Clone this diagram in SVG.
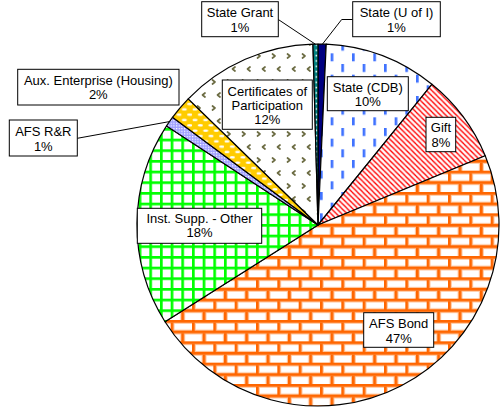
<svg xmlns="http://www.w3.org/2000/svg" width="500" height="410" viewBox="0 0 500 410">
<style>
.lbl{font-family:"Liberation Sans",Arial,sans-serif;font-size:13px;fill:#000;text-anchor:middle}
.box{fill:#fff;stroke:#000;stroke-width:1}
.slice{stroke:#000;stroke-width:1.2;stroke-linejoin:round}
.lead{fill:none;stroke:#000;stroke-width:1}
</style>
<defs>
<pattern id="brick" width="21.333" height="21.333" patternUnits="userSpaceOnUse">
<rect width="21.333" height="21.333" fill="#fff"/>
<g fill="none" stroke="#FFC49A" stroke-width="2.2">
<rect x="0" y="0" width="21.333" height="2.667"/>
<rect x="0" y="10.667" width="21.333" height="2.667"/>
<rect x="0" y="2.667" width="2.667" height="8"/>
<rect x="10.667" y="13.333" width="2.667" height="8"/>
</g>
<g fill="#FF6600">
<rect x="0" y="0" width="21.333" height="2.667"/>
<rect x="0" y="10.667" width="21.333" height="2.667"/>
<rect x="0" y="21.333" width="21.333" height="2.667"/>
<rect x="0" y="2.667" width="2.667" height="8"/>
<rect x="10.667" y="13.333" width="2.667" height="8"/>
</g>
</pattern>
<pattern id="grid" width="10.667" height="10.667" patternUnits="userSpaceOnUse">
<rect width="10.667" height="10.667" fill="#fff"/>
<rect width="10.667" height="2.667" fill="#00FF00"/>
<rect width="2.667" height="10.667" fill="#00FF00"/>
</pattern>
<pattern id="diag" width="5.333" height="5.333" patternUnits="userSpaceOnUse">
<rect width="5.333" height="5.333" fill="#fff"/>
<path d="M-1,-1 L6.333,6.333 M-3.667,1.667 L1.667,7 M1.667,-3.667 L7,1.667" stroke="#FFC8C8" stroke-width="2.2"/>
<path d="M-1,-1 L6.333,6.333 M-3.667,1.667 L1.667,7 M1.667,-3.667 L7,1.667" stroke="#FF0000" stroke-width="1.1"/>
</pattern>
<pattern id="dash" width="21.333" height="21.333" patternUnits="userSpaceOnUse">
<rect width="21.333" height="21.333" fill="#fff"/>
<rect x="0" y="0" width="2.667" height="8" fill="#3F72FF"/>
<rect x="10.667" y="10.667" width="2.667" height="8" fill="#3F72FF"/>
</pattern>
<pattern id="aux" width="10.667" height="10.667" patternUnits="userSpaceOnUse">
<rect width="10.667" height="10.667" fill="#FFCC00"/>
<ellipse cx="3" cy="2.7" rx="2.6" ry="1.3" fill="#fff"/>
<ellipse cx="8.33" cy="8" rx="2.6" ry="1.3" fill="#fff"/>
</pattern>
<pattern id="rr" width="2.667" height="2.667" patternUnits="userSpaceOnUse">
<rect width="2.667" height="2.667" fill="#A0A0FF"/>
<rect width="1.2" height="1.2" fill="#fff"/>
</pattern>
<pattern id="teal" width="5.333" height="5.333" patternUnits="userSpaceOnUse">
<rect width="5.333" height="5.333" fill="#008080"/>
<rect x="1" y="1.5" width="1.6" height="1.6" fill="#fff"/>
</pattern>
<pattern id="cert" width="15" height="26" patternUnits="userSpaceOnUse">
<rect width="15" height="26" fill="#fff"/>
<path d="M2.5,2 L5,4 L2.5,6 M10,15 L7.5,17 L10,19" fill="none" stroke="#6B6B42" stroke-width="1.7" stroke-linecap="round" stroke-linejoin="round"/>
</pattern>
</defs>

<rect width="500" height="410" fill="#fff"/>

<g id="pie">
<g id="slice-uofi"><path class="slice" fill="#000080" d="M318,225 L318,44 A181,181 0 0 1 326.21,44.19 Z"/></g>
<g id="slice-cdb"><path class="slice" fill="url(#dash)" d="M318,225 L326.21,44.19 A181,181 0 0 1 431.91,84.34 Z"/></g>
<g id="slice-gift"><path class="slice" fill="url(#diag)" d="M318,225 L431.91,84.34 A181,181 0 0 1 485.22,155.73 Z"/></g>
<g id="slice-afsbond"><path class="slice" fill="url(#brick)" d="M318,225 L485.22,155.73 A181,181 0 0 1 165.01,321.72 Z"/></g>
<g id="slice-inst"><path class="slice" fill="url(#grid)" d="M318,225 L165.01,321.72 A181,181 0 0 1 166.55,125.89 Z"/></g>
<g id="slice-afsrr"><path class="slice" fill="url(#rr)" d="M318,225 L166.55,125.89 A181,181 0 0 1 172.50,117.34 Z"/></g>
<g id="slice-aux"><path class="slice" fill="url(#aux)" d="M318,225 L172.50,117.34 A181,181 0 0 1 188.24,98.81 Z"/></g>
<g id="slice-cert"><path class="slice" fill="url(#cert)" d="M318,225 L188.24,98.81 A181,181 0 0 1 312.95,44.07 Z"/></g>
<g id="slice-grant"><path class="slice" fill="url(#teal)" d="M318,225 L312.95,44.07 A181,181 0 0 1 318,44 Z"/></g>
</g>

<g id="connectors">
<polyline class="lead" points="278.3,19.5 315.5,44.3"/>
<polyline class="lead" points="322.3,44.3 341.7,19.5 352.7,19.5"/>
<polyline class="lead" points="77.3,138.3 169.4,121.6"/>
</g>

<g id="label-state-grant">
<rect class="box" x="201.7" y="1.7" width="76.6" height="35"/>
<text class="lbl" x="240" y="17.3">State Grant</text>
<text class="lbl" x="240" y="31.7">1%</text>
</g>
<g id="label-state-uofi">
<rect class="box" x="352.7" y="1.7" width="87.6" height="35"/>
<text class="lbl" x="396.5" y="17.3">State (U of I)</text>
<text class="lbl" x="396.5" y="31.7">1%</text>
</g>
<g id="label-cdb">
<rect class="box" x="327.3" y="76.7" width="81" height="34"/>
<text class="lbl" x="367.8" y="91.7">State (CDB)</text>
<text class="lbl" x="367.8" y="106">10%</text>
</g>
<g id="label-gift">
<rect class="box" x="426" y="117.3" width="29.7" height="34.4"/>
<text class="lbl" x="440.9" y="131.7">Gift</text>
<text class="lbl" x="440.9" y="146.5">8%</text>
</g>
<g id="label-cert">
<rect class="box" x="222.3" y="80" width="90" height="49.3"/>
<text class="lbl" x="267.3" y="95.5">Certificates of</text>
<text class="lbl" x="267.3" y="110">Participation</text>
<text class="lbl" x="267.3" y="124.4">12%</text>
</g>
<g id="label-aux">
<rect class="box" x="17.7" y="69.3" width="161.3" height="35.7"/>
<text class="lbl" x="98.3" y="85">Aux. Enterprise (Housing)</text>
<text class="lbl" x="98.3" y="99.4">2%</text>
</g>
<g id="label-afsrr">
<rect class="box" x="9.3" y="120" width="68" height="36"/>
<text class="lbl" x="43.3" y="136">AFS R&amp;R</text>
<text class="lbl" x="43.3" y="150.7">1%</text>
</g>
<g id="label-inst">
<rect class="box" x="137.3" y="208.3" width="124.4" height="35"/>
<text class="lbl" x="199.5" y="222.7">Inst. Supp. - Other</text>
<text class="lbl" x="199.5" y="237.3">18%</text>
</g>
<g id="label-afsbond">
<rect class="box" x="363.7" y="312.7" width="70" height="34.6"/>
<text class="lbl" x="398.7" y="327.7">AFS Bond</text>
<text class="lbl" x="398.7" y="342.6">47%</text>
</g>
</svg>
